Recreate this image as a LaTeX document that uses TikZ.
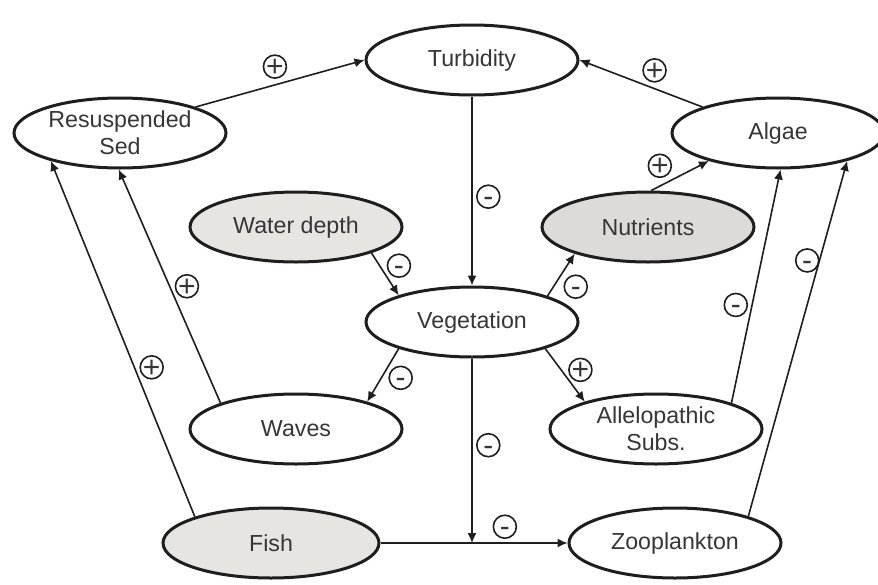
\documentclass[tikz,border=0pt]{standalone}
\usepackage{fontspec}
\setmainfont{Liberation Sans}
\usetikzlibrary{arrows.meta,positioning,shapes.geometric}
\definecolor{ink}{HTML}{1E1E1E}
\definecolor{txt}{HTML}{363636}
\definecolor{shade}{HTML}{E7E5E2}
\definecolor{shadedark}{HTML}{DCDBD9}
\newcommand\signof[1]{\makebox[0pt]{\raisebox{-.33em}[0pt][0pt]{#1}}}
\tikzset{
  factor/.style={ellipse,draw=ink,line width=1.5pt,fill=white,
    minimum width=106pt,minimum height=35pt,inner sep=0pt,align=center,
    font=\fontsize{11.6}{13.4}\selectfont\color{txt}},
  driver/.style={factor,fill=shade},
  arrow/.style={-{Latex[length=5pt,width=4.6pt]},line width=.8pt,draw=ink},
  sgn/.style={circle,draw=ink,line width=.8pt,fill=white,minimum size=11.5pt,
    inner sep=0pt,font=\fontsize{15}{15}\selectfont\color{txt}}
}

\begin{document}
\begin{tikzpicture}[x=.5pt,y=-.5pt]
\useasboundingbox (0,0) rectangle (878,584);
\node[factor] (turb) at (472,60) {Turbidity};
\node[factor] (resus) at (120,133) {Resuspended\\Sed};
\node[factor] (algae) at (778,133) {Algae};
\node[driver] (depth) at (296,227) {Water depth};
\node[driver,fill=shadedark] (nutr) at (648,227) {Nutrients};
\node[factor] (veg) at (472,322) {Vegetation};
\node[factor] (waves) at (296,429) {Waves};
\node[factor] (allelo) at (656,429) {Allelopathic\\Subs.};
\node[driver,minimum width=108pt] (fish) at (271,543) {Fish};
\node[factor] (zoo) at (675,543) {Zooplankton};
\coordinate (join) at (veg.south |- fish.east);

% top row
\draw[arrow] (resus.19) -- (turb.west) node[sgn,pos=.47,above=3pt] {\signof{+}};
\draw[arrow] (algae.161) -- (turb.east) node[sgn,pos=.39,above=3pt] {\signof{+}};
\draw[arrow] (nutr.85) -- (algae.202) node[sgn,pos=.15,above=4pt] {\signof{+}};
\draw[arrow] (turb.south) -- (veg.north) node[sgn,pos=.53,right=2pt] {\signof{-}};

% around vegetation
\draw[arrow] (depth.341) -- (veg.160) node[sgn,pos=.3,right=3.5pt] {\signof{-}};
\draw[arrow] (veg.19) -- (nutr.200) node[sgn,pos=.22,right=5pt] {\signof{-}};
\draw[arrow] (veg.200) -- (waves.21) node[sgn,pos=.55,right=3.5pt] {\signof{-}};
\draw[arrow] (veg.340) -- (allelo.159) node[sgn,pos=.4,right=3.5pt] {\signof{+}};
\draw[arrow] (veg.south) -- (join) node[sgn,pos=.47,right=2pt] {\signof{-}};

% long links
\draw[arrow] (allelo.19) -- (algae.274) node[sgn,pos=.42,left=2pt] {\signof{-}};
\draw[arrow] (zoo.20) -- (algae.338) node[sgn,pos=.72,left=0pt] {\signof{-}};
\draw[arrow] (waves.161) -- (resus.268) node[sgn,pos=.5,right=2.5pt] {\signof{+}};
\draw[arrow] (fish.161) -- (resus.202) node[sgn,pos=.42,right=2.5pt] {\signof{+}};
\draw[arrow] (fish.east) -- (zoo.west) node[sgn,pos=.665,above=2pt] {\signof{-}};
\end{tikzpicture}
\end{document}
